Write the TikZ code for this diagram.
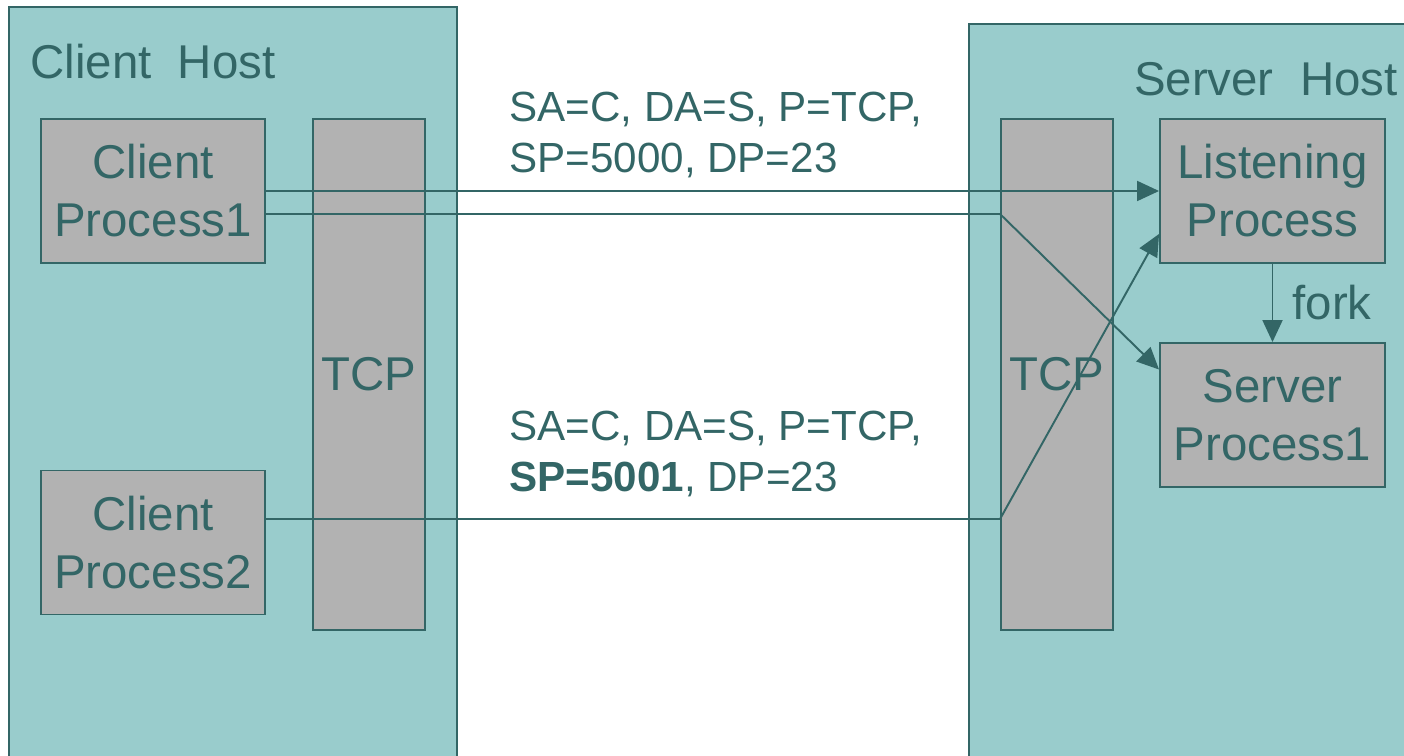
\documentclass[tikz,border=0pt]{standalone}
\usepackage{fontspec}
\setmainfont{Liberation Sans}
\usetikzlibrary{arrows.meta, positioning}
\definecolor{hostteal}{HTML}{99CCCC}
\definecolor{darkteal}{HTML}{336666}
\definecolor{boxgray}{HTML}{B2B2B2}
\tikzset{
    host/.style={draw=darkteal, fill=hostteal, line width=1.1pt},
    proc/.style={rectangle, draw=darkteal, fill=boxgray, line width=1.1pt, align=center, text=darkteal, minimum width=4.48cm, minimum height=2.88cm, font=\fontsize{27}{33}\selectfont},
    tcpbox/.style={rectangle, draw=darkteal, fill=boxgray, line width=1.1pt, text=darkteal, minimum width=2.24cm, minimum height=10.22cm, font=\fontsize{27}{33}\selectfont},
    arrow/.style={draw=darkteal, line width=1.1pt, -{Triangle[length=0.44cm, width=0.4cm]}},
    link/.style={draw=darkteal, line width=1.1pt}
}

\begin{document}
\begin{tikzpicture}[
    x=0.02cm, y=-0.02cm,
    hostlabel/.style={text=darkteal, inner sep=0pt, font=\fontsize{27}{33}\selectfont},
    packet/.style={text=darkteal, inner sep=0pt, align=left, font=\fontsize{24}{28.5}\selectfont}
]
    \useasboundingbox (0,0) rectangle (1404,756);

    % hosts
    \draw[host] (9,7) rectangle (457,790);
    \draw[host] (969,24) rectangle (1430,790);
    \node[hostlabel, anchor=west] (clienthost) at (30,62) {Client~~Host};
    \node[hostlabel, anchor=east] (serverhost) at (1398,79) {Server~~Host};

    % boxes
    \node[proc] (cp1) at (153,191) {Client\\Process1};
    \node[proc] (cp2) at (153,542.5) {Client\\Process2};
    \node[tcpbox] (tcpc) at (369,374.5) {\raisebox{-0.1cm}{TCP}};
    \node[tcpbox] (tcps) at (1057,374.5) {\raisebox{-0.1cm}{TCP}};
    \node[proc, minimum width=4.5cm] (listen) at (1272.5,191) {Listening\\Process};
    \node[proc, minimum width=4.5cm] (spro) at (1272.5,415) {Server\\Process1};

    \node[packet, anchor=west] (pkt1) at (509,135) {SA=C, DA=S, P=TCP,\\SP=5000, DP=23};
    \node[packet, anchor=west] (pkt2) at (509,454) {SA=C, DA=S, P=TCP,\\\textbf{SP=5001}, DP=23};

    % connections
    \draw[arrow] (cp1.east) -- (listen.west);
    \draw[arrow] ([yshift=-0.46cm]cp1.east) -- ([yshift=-0.46cm]cp1.east -| tcps.west) -- ([yshift=-0.55cm]spro.north west);
    \draw[arrow] ([yshift=0.47cm]cp2.east) -- ([yshift=0.47cm]cp2.east -| tcps.west) -- ([yshift=0.6cm]listen.south west);
    \draw[arrow] (listen.south) -- node[midway, right=0.38cm, hostlabel] {fork} (spro.north);
\end{tikzpicture}
\end{document}
